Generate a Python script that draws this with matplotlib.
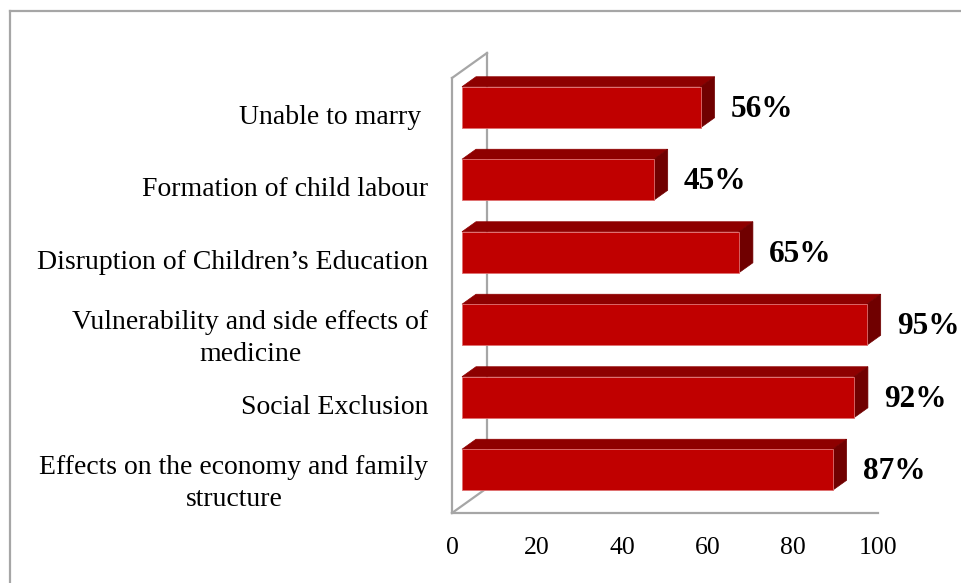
import numpy as np
import matplotlib
matplotlib.use("Agg")
import matplotlib.pyplot as plt
from matplotlib.patches import Polygon
from matplotlib.lines import Line2D
from matplotlib.transforms import IdentityTransform

# data (bottom to top)
categories = ["Effects on the economy and family\nstructure",
              "Social Exclusion",
              "Vulnerability and side effects of\nmedicine",
              "Disruption of Children\u2019s Education",
              "Formation of child labour",
              "Unable to marry "]
values = [87, 92, 95, 65, 45, 56]
xticks = [0, 20, 40, 60, 80, 100]

plt.rcParams['font.family'] = ['Liberation Serif', 'DejaVu Serif']

fig = plt.figure(figsize=(9.62, 5.83), dpi=100)
ax = fig.add_axes([452/962, 70/583, 426/962, 435/583])
ax.set_xlim(0, 100)
ax.set_ylim(-0.5, len(values) - 0.5)
for s in ax.spines.values():
    s.set_visible(False)
ax.patch.set_visible(False)

ax.set_xticks(xticks)
ax.set_xticklabels([str(t) for t in xticks])
ax.set_yticks(range(len(categories)))
ax.set_yticklabels(categories)
ax.tick_params(axis='x', length=0, labelsize=18.5, pad=17)
ax.tick_params(axis='y', length=0, labelsize=20, pad=17)
for lbl in ax.get_yticklabels():
    lbl.set_multialignment('center')
    lbl.set_linespacing(1.4)

px = IdentityTransform()
grey = '#A6A6A6'

# 3d offsets in pixels (x right, y up)
wall = np.array([35, 25])
front = np.array([10, 7])
back = np.array([24, 17])
h = 0.566

f = ax.transData.transform
p0 = f((0, -0.5))
p1 = f((100, -0.5))
ptop = f((0, len(values) - 0.5))

def seg(a, b):
    fig.add_artist(Line2D([a[0], b[0]], [a[1], b[1]], color=grey, lw=1.6,
                          transform=px, zorder=1))

seg(p0, p1)
seg(p0, ptop)
seg(ptop, ptop + wall)
seg(ptop + wall, p0 + wall)
seg(p0, p0 + wall)

d = back - front
for i, v in enumerate(values):
    x0, y0 = f((0, i - h / 2))
    x1, y1 = f((v, i + h / 2))
    fr = np.array([(x0, y0), (x1, y0), (x1, y1), (x0, y1)]) + front
    top = np.array([(x0, y1), (x1, y1), (x1 + d[0], y1 + d[1]),
                    (x0 + d[0], y1 + d[1])]) + front
    side = np.array([(x1, y0), (x1, y1), (x1 + d[0], y1 + d[1]),
                     (x1 + d[0], y0 + d[1])]) + front
    fig.add_artist(Polygon(top, closed=True, fc='#8E0000', ec='#8E0000', lw=0.5,
                           transform=px, zorder=3))
    fig.add_artist(Polygon(side, closed=True, fc='#700000', ec='#700000', lw=0.5,
                           transform=px, zorder=3))
    fig.add_artist(Polygon(fr, closed=True, fc='#C00000', ec='#E07070', lw=0.6,
                           transform=px, zorder=4))
    yc = f((0, i))[1] + 5
    fig.text(x1 + back[0] + 16, yc, f"{v}%", transform=px, ha='left', va='center',
             fontsize=22.5, fontweight='bold', zorder=5)

# outer border (top and left edges visible)
W, H = 962, 583
fig.add_artist(Line2D([10, 10], [-5, H - 11], color=grey, lw=1.6, transform=px))
fig.add_artist(Line2D([10, W + 5], [H - 11, H - 11], color=grey, lw=1.6, transform=px))

fig.savefig("out.png", dpi=100)
